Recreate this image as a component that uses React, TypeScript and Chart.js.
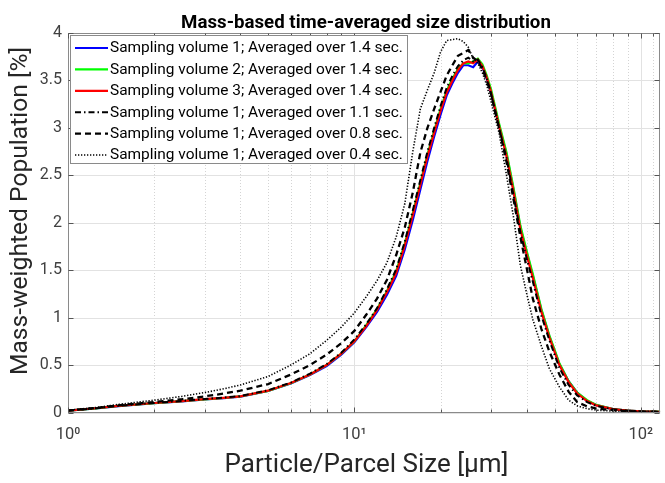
import React, { useEffect, useRef } from "react";
import { Chart, registerables } from "chart.js";

Chart.register(...registerables);

// ---------- data ----------
const sizes = [1, 1.25, 1.5, 2, 2.5, 3, 3.5, 4, 5, 6, 7, 8, 9, 10, 11, 12, 13, 14, 15, 16, 17, 18, 19, 20, 21, 22, 23, 24, 25, 26, 27, 28, 29, 30, 32, 34, 36, 38, 40, 42, 45, 48, 52, 56, 60, 65, 70, 80, 90, 100, 117];

const vol1_14 = [0.02, 0.044, 0.068, 0.098, 0.118, 0.138, 0.152, 0.168, 0.226, 0.305, 0.395, 0.49, 0.61, 0.74, 0.9, 1.06, 1.24, 1.44, 1.72, 2.03, 2.35, 2.65, 2.91, 3.14, 3.34, 3.47, 3.58, 3.66, 3.66, 3.64, 3.7, 3.64, 3.52, 3.38, 3.03, 2.72, 2.34, 1.95, 1.68, 1.44, 1.08, 0.8, 0.51, 0.33, 0.21, 0.12, 0.078, 0.036, 0.02, 0.013, 0.008];
const vol2_14 = [0.019, 0.043, 0.069, 0.099, 0.119, 0.139, 0.153, 0.169, 0.228, 0.308, 0.4, 0.5, 0.62, 0.75, 0.92, 1.09, 1.28, 1.49, 1.78, 2.1, 2.42, 2.72, 2.97, 3.2, 3.39, 3.52, 3.62, 3.68, 3.68, 3.7, 3.73, 3.67, 3.55, 3.41, 3.05, 2.74, 2.36, 1.97, 1.7, 1.46, 1.09, 0.81, 0.52, 0.33, 0.21, 0.13, 0.08, 0.037, 0.021, 0.013, 0.009];
const vol3_14 = [0.02, 0.045, 0.07, 0.1, 0.12, 0.14, 0.155, 0.17, 0.23, 0.31, 0.4, 0.5, 0.62, 0.75, 0.91, 1.08, 1.27, 1.47, 1.76, 2.08, 2.4, 2.7, 2.95, 3.18, 3.37, 3.5, 3.61, 3.68, 3.7, 3.68, 3.72, 3.65, 3.53, 3.38, 3.02, 2.7, 2.32, 1.93, 1.66, 1.42, 1.06, 0.79, 0.5, 0.32, 0.2, 0.12, 0.075, 0.035, 0.02, 0.012, 0.008];
const vol1_11 = [0.02, 0.045, 0.071, 0.101, 0.122, 0.142, 0.158, 0.173, 0.235, 0.315, 0.41, 0.51, 0.63, 0.77, 0.93, 1.1, 1.3, 1.51, 1.8, 2.13, 2.45, 2.75, 3.0, 3.23, 3.42, 3.55, 3.65, 3.71, 3.74, 3.7, 3.72, 3.64, 3.52, 3.36, 3.0, 2.68, 2.28, 1.9, 1.62, 1.38, 1.02, 0.76, 0.47, 0.29, 0.18, 0.11, 0.07, 0.033, 0.019, 0.012, 0.008];
const vol1_08 = [0.02, 0.047, 0.076, 0.11, 0.14, 0.17, 0.2, 0.23, 0.3, 0.4, 0.5, 0.61, 0.73, 0.86, 1.03, 1.2, 1.4, 1.66, 1.95, 2.32, 2.74, 3.0, 3.2, 3.38, 3.55, 3.66, 3.76, 3.79, 3.82, 3.74, 3.7, 3.62, 3.5, 3.36, 3.0, 2.64, 2.24, 1.85, 1.52, 1.2, 0.88, 0.64, 0.4, 0.22, 0.11, 0.065, 0.042, 0.024, 0.015, 0.01, 0.007];
const vol1_04 = [0.025, 0.052, 0.085, 0.13, 0.17, 0.21, 0.25, 0.29, 0.38, 0.5, 0.62, 0.76, 0.9, 1.05, 1.22, 1.39, 1.58, 1.85, 2.2, 2.75, 3.2, 3.4, 3.58, 3.8, 3.92, 3.93, 3.94, 3.91, 3.85, 3.73, 3.68, 3.58, 3.45, 3.28, 2.95, 2.5, 2.05, 1.55, 1.25, 0.98, 0.7, 0.46, 0.27, 0.13, 0.07, 0.04, 0.025, 0.015, 0.01, 0.008, 0.006];

const seriesLabels = [
  "Sampling volume 1; Averaged over 1.4 sec.",
  "Sampling volume 2; Averaged over 1.4 sec.",
  "Sampling volume 3; Averaged over 1.4 sec.",
  "Sampling volume 1; Averaged over 1.1 sec.",
  "Sampling volume 1; Averaged over 0.8 sec.",
  "Sampling volume 1; Averaged over 0.4 sec.",
];
const seriesValues = [vol1_14, vol2_14, vol3_14, vol1_11, vol1_08, vol1_04];

const xTickValues = [1, 10, 100];
const xTickLabels = ["10\u2070", "10\u00B9", "10\u00B2"];
const xMinorValues = [2, 3, 4, 5, 6, 7, 8, 9, 20, 30, 40, 50, 60, 70, 80, 90, 110];
const yTickValues = [0, 0.5, 1, 1.5, 2, 2.5, 3, 3.5, 4];
const yTickLabels = ["0", "0.5", "1", "1.5", "2", "2.5", "3", "3.5", "4"];

const titleText = "Mass-based time-averaged size distribution";
const xTitle = "Particle/Parcel Size [\u03BCm]";
const yTitle = "Mass-weighted Population [%]";

// ---------- styles ----------
const colors = ["#0000ff", "#00ff00", "#ff0000", "#000000", "#000000", "#000000"];
const dashes: number[][] = [[], [], [], [6, 3, 1.5, 3], [6, 4], [1.3, 1.7]];
const widths = [2.2, 2.2, 2.2, 2, 2.3, 1.6];
const FONT = "Roboto, 'Noto Sans', sans-serif";

// set a font so that `text` spans `target` pixels
function fitFont(ctx: CanvasRenderingContext2D, text: string, target: number, weight: string) {
  ctx.font = `${weight} 20px ${FONT}`;
  const w = ctx.measureText(text).width;
  const size = (20 * target) / w;
  ctx.font = `${weight} ${size.toFixed(2)}px ${FONT}`;
  return size;
}

const framePlugin = {
  id: "frame",
  beforeDatasetsDraw(chart: any) {
    const { ctx, chartArea: a, scales } = chart;
    const xs = scales.x;
    const ys = scales.y;
    ctx.save();
    ctx.lineWidth = 1;
    ctx.strokeStyle = "#d4d4d4";
    ctx.setLineDash([1, 2]);
    for (const v of xMinorValues) {
      const px = Math.round(xs.getPixelForValue(v)) + 0.5;
      if (px < a.left || px > a.right) continue;
      ctx.beginPath();
      ctx.moveTo(px, a.top);
      ctx.lineTo(px, a.bottom);
      ctx.stroke();
    }
    ctx.setLineDash([]);
    ctx.strokeStyle = "#e2e2e2";
    for (const v of xTickValues) {
      const px = Math.round(xs.getPixelForValue(v)) + 0.5;
      if (px < a.left || px > a.right) continue;
      ctx.beginPath();
      ctx.moveTo(px, a.top);
      ctx.lineTo(px, a.bottom);
      ctx.stroke();
    }
    for (const v of yTickValues) {
      const py = Math.round(ys.getPixelForValue(v)) + 0.5;
      ctx.beginPath();
      ctx.moveTo(a.left, py);
      ctx.lineTo(a.right, py);
      ctx.stroke();
    }
    ctx.restore();
  },
  afterDatasetsDraw(chart: any) {
    const { ctx, chartArea: a, scales } = chart;
    const xs = scales.x;
    const ys = scales.y;
    ctx.save();
    ctx.strokeStyle = "#8a8a8a";
    ctx.lineWidth = 1;
    const L = Math.round(a.left) + 0.5;
    const T = Math.round(a.top) + 0.5;
    const B = Math.round(a.bottom) - 0.5;
    const R = Math.round(a.right) - 0.5;
    ctx.strokeRect(L, T, R - L, B - T);
    ctx.strokeStyle = "#555555";
    const tickX = (v: number, len: number) => {
      const px = Math.round(xs.getPixelForValue(v)) + 0.5;
      if (px < a.left || px > a.right) return;
      ctx.beginPath();
      ctx.moveTo(px, B);
      ctx.lineTo(px, B - len);
      ctx.moveTo(px, T);
      ctx.lineTo(px, T + len);
      ctx.stroke();
    };
    xMinorValues.forEach((v) => tickX(v, 3));
    xTickValues.forEach((v) => tickX(v, 5));
    for (const v of yTickValues) {
      const py = Math.round(ys.getPixelForValue(v)) + 0.5;
      ctx.beginPath();
      ctx.moveTo(L, py);
      ctx.lineTo(L + 5, py);
      ctx.moveTo(R, py);
      ctx.lineTo(R - 5, py);
      ctx.stroke();
    }

    // legend
    const lx = 70.5, ly = 35.5, lw = 337, lh = 128;
    ctx.fillStyle = "#ffffff";
    ctx.fillRect(lx, ly, lw, lh);
    ctx.strokeStyle = "#8a8a8a";
    ctx.lineWidth = 1;
    ctx.strokeRect(lx, ly, lw, lh);
    fitFont(ctx, seriesLabels[0], 293, "normal");
    const legendFont = ctx.font;
    ctx.textAlign = "left";
    ctx.textBaseline = "middle";
    chart.data.datasets.forEach((ds: any, i: number) => {
      const y = 48 + i * 21.4;
      ctx.strokeStyle = ds.borderColor;
      ctx.lineWidth = ds.borderWidth;
      ctx.setLineDash(ds.borderDash || []);
      ctx.beginPath();
      ctx.moveTo(75, y);
      ctx.lineTo(108, y);
      ctx.stroke();
      ctx.setLineDash([]);
      ctx.fillStyle = "#000000";
      ctx.font = legendFont;
      ctx.fillText(ds.label, 110, y + 0.5);
    });

    // titles
    ctx.fillStyle = "#000000";
    ctx.textAlign = "center";
    ctx.textBaseline = "alphabetic";
    fitFont(ctx, titleText, 370, "bold");
    ctx.fillText(titleText, 366, 28);
    ctx.fillStyle = "#262626";
    fitFont(ctx, xTitle, 284, "normal");
    ctx.fillText(xTitle, 366.5, 472);
    ctx.save();
    ctx.translate(27, 211);
    ctx.rotate(-Math.PI / 2);
    fitFont(ctx, yTitle, 328, "normal");
    ctx.fillText(yTitle, 0, 0);
    ctx.restore();
    ctx.restore();
  },
};

export default function App() {
  const ref = useRef<HTMLCanvasElement | null>(null);
  useEffect(() => {
    if (!ref.current) return;
    const chart = new Chart(ref.current, {
      type: "line",
      data: {
        datasets: seriesValues.map((vals, i) => ({
          label: seriesLabels[i],
          data: sizes.map((s, j) => ({ x: s, y: vals[j] })),
          borderColor: colors[i],
          backgroundColor: colors[i],
          borderWidth: widths[i],
          borderDash: dashes[i],
          pointRadius: 0,
          tension: 0,
          fill: false,
          order: seriesValues.length - 1 - i,
        })),
      },
      options: {
        responsive: false,
        animation: false,
        layout: { padding: { top: 33, left: 0, right: 0, bottom: 0 } },
        plugins: {
          legend: { display: false },
          title: { display: false },
          tooltip: { enabled: false },
        },
        scales: {
          x: {
            type: "logarithmic",
            min: 1,
            max: 117,
            grid: { display: false, drawTicks: false },
            border: { display: false },
            afterBuildTicks: (scale: any) => {
              scale.ticks = xTickValues.map((v) => ({ value: v }));
            },
            afterFit: (scale: any) => {
              scale.height = 70.5;
            },
            ticks: {
              autoSkip: false,
              maxRotation: 0,
              padding: 12,
              color: "#404040",
              font: { family: FONT, size: 16.5 },
              callback: (v: any) => {
                const k = xTickValues.indexOf(Number(v));
                return k >= 0 ? xTickLabels[k] : "";
              },
            },
          },
          y: {
            type: "linear",
            min: 0,
            max: 4,
            grid: { display: false, drawTicks: false },
            border: { display: false },
            afterBuildTicks: (scale: any) => {
              scale.ticks = yTickValues.map((v) => ({ value: v }));
            },
            afterFit: (scale: any) => {
              scale.width = 68;
            },
            ticks: {
              padding: 6,
              color: "#404040",
              font: { family: FONT, size: 16 },
              callback: (v: any) => {
                const k = yTickValues.indexOf(Number(v));
                return k >= 0 ? yTickLabels[k] : "";
              },
            },
          },
        },
      },
      plugins: [framePlugin],
    });
    return () => chart.destroy();
  }, []);
  return (
    <div style={{ position: "fixed", left: 0, top: 0, width: 665, height: 483, background: "#fff" }}>
      <canvas ref={ref} width={665} height={483} />
    </div>
  );
}
